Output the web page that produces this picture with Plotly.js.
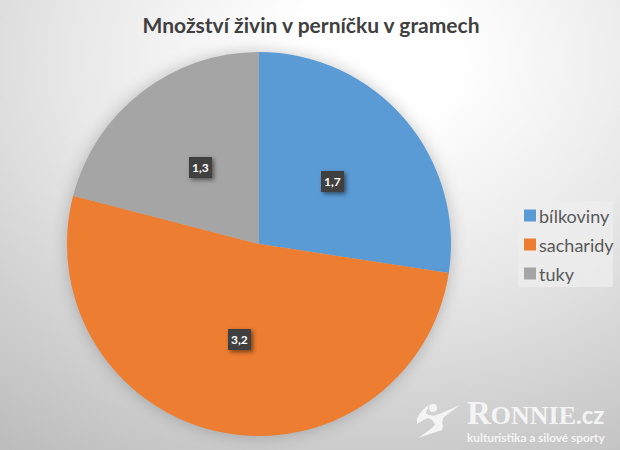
<!DOCTYPE html>
<html><head><meta charset="utf-8">
<script src="https://cdn.plot.ly/plotly-3.0.1.min.js"></script>
<style>
html,body{margin:0;padding:0;width:620px;height:450px;overflow:hidden;}
body{background:radial-gradient(ellipse 620px 480px at 370px 60px,#ffffff 0%,#ffffff 14%,#e8e8e8 48%,#cbcbcb 82%,#b8b8b8 105%);}
#chart{width:620px;height:450px;}
.pielayer{filter:drop-shadow(0 0 8px rgba(0,0,0,.22));}
.annotation-text-g rect.bg{filter:drop-shadow(2px 2px 2px rgba(0,0,0,.5));}
.legendtext{transform:translateX(-11px);}
</style></head><body><div id="chart"></div>
<script>
const title='Množství živin v perníčku v gramech';
const categories=['bílkoviny','sacharidy','tuky'];
const values=[1.7,3.2,1.3];
const colors=['#5b9bd5','#ed7d31','#a5a5a5'];
const W=620,H=450;
const px=x=>x/W, py=y=>1-y/H;
const labelPos=[[332,181.5],[239,339],[200.5,168]];
const fmt=v=>v.toFixed(1).replace('.',',');
const annotations=values.map((v,i)=>({
  xref:'paper',yref:'paper',x:px(labelPos[i][0]),y:py(labelPos[i][1]),xanchor:'center',yanchor:'middle',showarrow:false,
  text:'<b>'+fmt(v)+'</b>',font:{family:'Lato, sans-serif',size:12,color:'#ffffff'},
  bgcolor:'#404040',borderpad:3,borderwidth:0
}));
annotations.push({xref:'paper',yref:'paper',x:px(465),y:py(413),xanchor:'left',yanchor:'middle',showarrow:false,
  text:'<b><span style="font-size:33px">R</span>ONNIE<span style="font-family:Lato,sans-serif;font-size:24px">.cz</span></b>',
  font:{family:'Liberation Serif, serif',size:26,color:'#f4f4f4'}});
annotations.push({xref:'paper',yref:'paper',x:px(465),y:py(437),xanchor:'left',yanchor:'middle',showarrow:false,
  text:'<b>kulturistika a silové sporty</b>',font:{family:'Lato, sans-serif',size:11.8,color:'#f4f4f4'}});
const P=(x,y)=>px(x).toFixed(4)+','+py(y).toFixed(4);
const logo='M '+P(417,418)+' Q '+P(422,409)+' '+P(429,405)+' L '+P(426,413)+' Q '+P(430,417)+' '+P(437,415)+' L '+P(460,405)+' L '+P(444,417)+' Q '+P(441,422)+' '+P(443,426)+' L '+P(442,430)+' L '+P(418,438)+' Q '+P(430,430)+' '+P(435,425)+' Q '+P(432,418)+' '+P(428,418)+' Q '+P(422,420)+' '+P(417,424)+' Z';
const shapes=[
 {type:'rect',layer:'below',xref:'paper',yref:'paper',x0:px(518),x1:px(613),y0:py(287),y1:py(201),fillcolor:'rgba(238,238,238,0.75)',line:{width:0}},
 {type:'path',xref:'paper',yref:'paper',path:logo,fillcolor:'#f4f4f4',line:{width:0}},
 {type:'circle',xref:'paper',yref:'paper',x0:px(429),x1:px(437),y0:py(412),y1:py(404),fillcolor:'#f4f4f4',line:{width:0}}
];
Plotly.newPlot('chart',[{
  type:'pie',labels:categories.map(c=>'<span style="font-size:18px">'+c+'</span>'),values:values,
  marker:{colors:colors,line:{width:0}},sort:false,direction:'clockwise',rotation:0,
  textinfo:'none',hoverinfo:'label+value',
  domain:{x:[px(67),px(451)],y:[py(436),py(52)]}
}],{
  width:W,height:H,margin:{l:0,r:0,t:0,b:0,autoexpand:false},paper_bgcolor:'rgba(0,0,0,0)',plot_bgcolor:'rgba(0,0,0,0)',
  title:{text:'<b>'+title+'</b>',font:{family:'Lato, sans-serif',size:21,color:'#404040'},x:px(311),xanchor:'center',y:py(26),yanchor:'middle'},
  showlegend:true,
  legend:{x:px(510),y:py(196),xanchor:'left',yanchor:'top',bgcolor:'rgba(0,0,0,0)',borderwidth:0,
    font:{family:'Lato, sans-serif',size:20,color:'#595959'},itemwidth:30},
  annotations:annotations,shapes:shapes
},{displayModeBar:false,staticPlot:true});
</script></body></html>
